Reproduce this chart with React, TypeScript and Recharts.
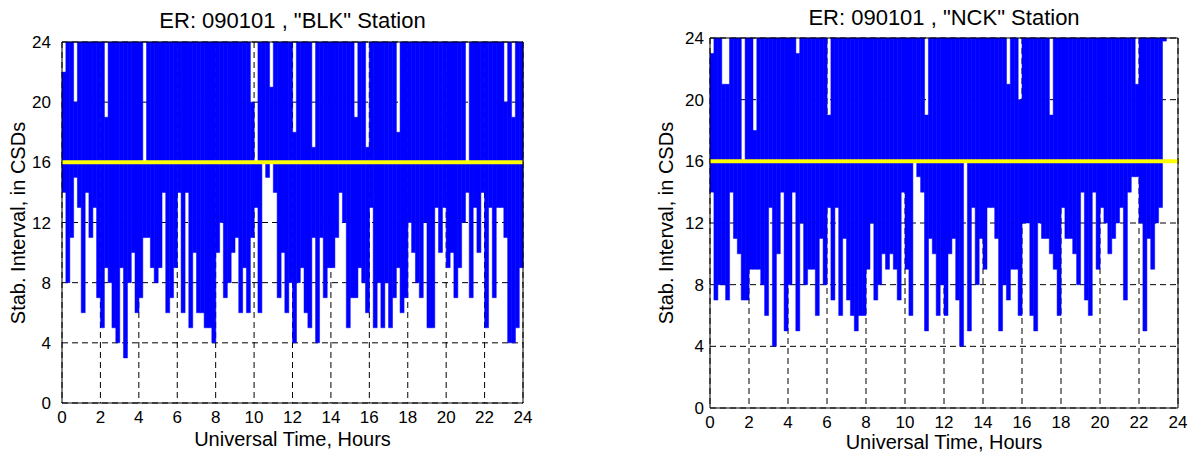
import { Bar, BarChart, CartesianGrid, ReferenceLine, XAxis, YAxis } from "recharts";

// 12-minute bins over 24 hours
const BIN_HOURS = 0.2;
const THRESHOLD = 16;
const HOUR_TICKS = [0, 2, 4, 6, 8, 10, 12, 14, 16, 18, 20, 22, 24];
const CSD_TICKS = [0, 4, 8, 12, 16, 20, 24];

// BLK station: lower / upper end of each bar (CSDs)
const blkLow = [
  14, 8, 11, 15, 13, 6, 14, 11, 13, 7, 5, 9, 8, 5, 4, 9, 3, 8, 10, 6,
  7, 11, 11, 9, 8, 9, 14, 6, 7, 9, 14, 6, 14, 5, 10, 6, 6, 5, 5, 4,
  10, 12, 7, 8, 10, 11, 6, 9, 6, 11, 13, 6, 16, 15, 16, 14, 7, 10, 6, 8,
  4, 8, 9, 6, 5, 11, 4, 11, 7, 9, 9, 11, 14, 12, 5, 7, 7, 9, 8, 6,
  13, 5, 8, 5, 8, 5, 7, 9, 6, 7, 12, 10, 8, 7, 12, 5, 5, 13, 10, 13,
  9, 10, 7, 9, 12, 14, 7, 13, 10, 14, 5, 13, 7, 13, 13, 11, 4, 4, 5, 9
];
const blkHigh = [
  22, 24, 24, 20, 24, 24, 24, 24, 24, 24, 24, 19, 24, 24, 24, 24, 24, 24, 24, 24,
  24, 16, 24, 24, 24, 24, 24, 24, 24, 24, 24, 24, 24, 24, 24, 24, 24, 24, 24, 24,
  24, 24, 24, 24, 24, 24, 24, 24, 24, 20, 16, 24, 24, 24, 21, 24, 24, 24, 24, 24,
  18, 24, 24, 24, 24, 17, 24, 24, 24, 24, 24, 24, 24, 24, 24, 24, 19, 24, 24, 17,
  24, 24, 24, 24, 24, 24, 24, 18, 24, 24, 24, 24, 24, 24, 24, 24, 24, 24, 24, 24,
  24, 24, 24, 24, 24, 16, 24, 24, 24, 24, 24, 24, 24, 24, 24, 20, 24, 19, 24, 24
];

// NCK station
const nckLow = [
  14, 7, 8, 8, 7, 14, 11, 10, 7, 7, 9, 9, 9, 8, 6, 13, 4, 10, 14, 5,
  8, 14, 5, 12, 8, 9, 9, 6, 11, 8, 13, 7, 13, 6, 11, 7, 6, 5, 6, 6,
  9, 12, 7, 8, 10, 9, 10, 9, 7, 14, 9, 6, 16, 15, 14, 5, 11, 10, 6, 8,
  6, 10, 11, 7, 4, 16, 5, 13, 8, 11, 9, 13, 13, 11, 5, 8, 7, 9, 9, 6,
  12, 12, 6, 5, 12, 11, 11, 10, 9, 6, 13, 11, 11, 10, 8, 14, 7, 6, 14, 9,
  13, 12, 10, 11, 12, 13, 7, 14, 15, 15, 12, 5, 11, 9, 12, 13, 23.8
];
const nckHigh = [
  23, 24, 24, 21, 21, 24, 24, 24, 16, 24, 24, 18, 24, 24, 24, 24, 24, 24, 24, 24,
  24, 24, 23, 24, 24, 24, 24, 24, 24, 24, 19, 24, 24, 24, 24, 24, 24, 24, 24, 24,
  24, 24, 24, 24, 24, 24, 24, 24, 24, 24, 24, 24, 24, 24, 24, 19, 24, 24, 24, 24,
  24, 24, 24, 24, 24, 24, 24, 24, 24, 24, 24, 24, 24, 24, 24, 24, 21, 24, 24, 20,
  24, 24, 24, 24, 24, 24, 24, 19, 24, 24, 24, 24, 24, 24, 24, 24, 24, 24, 24, 24,
  24, 24, 24, 24, 24, 24, 24, 24, 24, 21, 24, 24, 24, 24, 24, 24, 24
];

const FONT = "'Liberation Sans', Arial, Helvetica, sans-serif";

type Box = { x: number; y: number; w: number; h: number };

function toRows(low: number[], high: number[]) {
  return low.map((lo, i) => ({ t: i * BIN_HOURS + BIN_HOURS / 2, range: [lo, high[i]] }));
}

function StationPanel({
  title,
  rows,
  left,
  box,
  titleY,
  xLabelY,
  yLabelX,
  tickGap
}: {
  title: string;
  rows: Array<{ t: number; range: number[] }>;
  left: number;
  box: Box;
  titleY: number;
  xLabelY: number;
  yLabelX: number;
  tickGap: number;
}) {
  const panelW = 596;
  const axisW = box.x - left;
  const xAxisH = 30;
  const tickStyle = { fill: "#000", fontSize: 17, fontFamily: FONT };

  return (
    <div style={{ position: "absolute", left, top: 0, width: panelW, height: 457 }}>
      <BarChart
        width={panelW}
        height={457}
        data={rows}
        barCategoryGap={0}
        margin={{ top: box.y, right: panelW - axisW - box.w, bottom: 457 - box.y - box.h - xAxisH, left: 0 }}
      >
        <CartesianGrid stroke="#000" strokeDasharray="6 4" strokeWidth={1} />
        <XAxis
          dataKey="t"
          type="number"
          domain={[0, 24]}
          ticks={HOUR_TICKS}
          height={xAxisH}
          tickLine={false}
          axisLine={{ stroke: "#000" }}
          tick={tickStyle}
          interval={0}
        />
        <YAxis
          type="number"
          domain={[0, 24]}
          ticks={CSD_TICKS}
          width={axisW}
          tickLine={false}
          tickMargin={tickGap}
          axisLine={{ stroke: "#000" }}
          tick={tickStyle}
          interval={0}
        />
        <Bar
          dataKey="range"
          fill="#0000ff"
          stroke="#0000ff"
          strokeWidth={0.5}
          isAnimationActive={false}
        />
        <ReferenceLine y={THRESHOLD} stroke="#ffff00" strokeWidth={4} />
        <ReferenceLine y={24} stroke="#000" />
        <ReferenceLine x={24} stroke="#000" />
      </BarChart>
      <div
        style={{
          position: "absolute",
          left: axisW,
          width: box.w,
          top: titleY - 13,
          height: 26,
          lineHeight: "26px",
          textAlign: "center",
          fontFamily: FONT,
          fontSize: 22,
          whiteSpace: "nowrap"
        }}
      >
        {title}
      </div>
      <div
        style={{
          position: "absolute",
          left: axisW,
          width: box.w,
          top: xLabelY - 12,
          height: 24,
          lineHeight: "24px",
          textAlign: "center",
          fontFamily: FONT,
          fontSize: 20,
          whiteSpace: "nowrap"
        }}
      >
        Universal Time, Hours
      </div>
      <div
        style={{
          position: "absolute",
          left: yLabelX - left,
          top: box.y + box.h / 2,
          transform: "translate(-50%, -50%) rotate(-90deg)",
          fontFamily: FONT,
          fontSize: 20,
          lineHeight: "24px",
          whiteSpace: "nowrap"
        }}
      >
        Stab. Interval, in CSDs
      </div>
    </div>
  );
}

export default function App() {
  return (
    <div style={{ position: "absolute", left: 0, top: 0, width: 1193, height: 457, background: "#fff" }}>
      <StationPanel
        title={'ER: 090101 , "BLK" Station'}
        rows={toRows(blkLow, blkHigh)}
        left={0}
        box={{ x: 62, y: 42, w: 461, h: 361 }}
        titleY={21}
        xLabelY={439}
        yLabelX={18}
        tickGap={5}
      />
      <StationPanel
        title={'ER: 090101 , "NCK" Station'}
        rows={toRows(nckLow, nckHigh)}
        left={597}
        box={{ x: 710, y: 38, w: 468, h: 370 }}
        titleY={18}
        xLabelY={442}
        yLabelX={666}
        tickGap={0}
      />
    </div>
  );
}
